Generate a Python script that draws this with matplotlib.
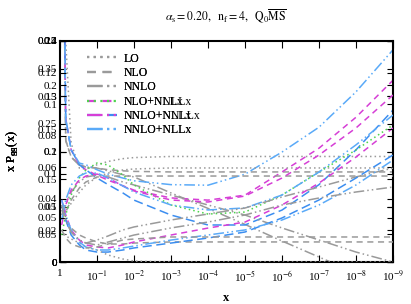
import numpy as np
import matplotlib.pyplot as plt
from matplotlib.lines import Line2D

plt.rcParams['font.family'] = ['Liberation Serif', 'DejaVu Serif']
plt.rcParams['mathtext.fontset'] = 'stix'

# common x grid (log spaced by eye)
x = np.array([0.9, 0.7, 0.5, 0.3, 0.2, 0.1, 0.05, 0.02, 1e-2,
              1e-3, 1e-4, 1e-5, 1e-6, 1e-7, 1e-8, 1e-9])

# gg panel (y range 0 - 0.4)
gg_lo = [1.58, 0.40, 0.215, 0.170, 0.168, 0.176, 0.182, 0.187, 0.189,
         0.191, 0.191, 0.191, 0.191, 0.191, 0.191, 0.191]
gg_nlo = [0.90, 0.22, 0.19, 0.176, 0.172, 0.170, 0.167, 0.165, 0.164,
          0.163, 0.163, 0.163, 0.163, 0.163, 0.163, 0.163]
gg_nnlo = [0.90, 0.22, 0.19, 0.175, 0.172, 0.170, 0.165, 0.158, 0.154,
           0.125, 0.097, 0.068, 0.038, 0.009, -0.02, -0.05]
gg_nlo_nllx = [0.90, 0.26, 0.203, 0.176, 0.167, 0.157, 0.148, 0.138, 0.130,
               0.116, 0.112, 0.121, 0.163, 0.206, 0.262, 0.329]
gg_nnlo_nnllx = [0.90, 0.26, 0.203, 0.176, 0.167, 0.152, 0.140, 0.125, 0.112,
                 0.085, 0.067, 0.067, 0.094, 0.140, 0.203, 0.275]
gg_nnlo_nllx = [0.90, 0.257, 0.203, 0.179, 0.176, 0.167, 0.159, 0.152, 0.147,
                0.140, 0.139, 0.159, 0.199, 0.244, 0.308, 0.384]

# gq panel (y range 0 - 0.2)
gq_lo = [0.0425, 0.0462, 0.053, 0.063, 0.0697, 0.0769, 0.0805, 0.0833, 0.0842,
         0.0851, 0.0851, 0.0851, 0.0851, 0.0851, 0.0851, 0.0851]
gq_nlo = [0.038, 0.0452, 0.0561, 0.067, 0.0724, 0.0769, 0.0778, 0.0778, 0.0778,
          0.0778, 0.0778, 0.0778, 0.0778, 0.0778, 0.0778, 0.0778]
gq_nnlo = [0.0425, 0.0516, 0.0633, 0.0724, 0.0769, 0.0787, 0.0769, 0.0724, 0.0697,
           0.0606, 0.0516, 0.0425, 0.0308, 0.0199, 0.009, 0.0]
gq_nlo_nnllx = [0.0244, 0.0425, 0.0606, 0.076, 0.0833, 0.0896, 0.0878, 0.0787, 0.0697,
                0.0516, 0.0434, 0.0452, 0.0606, 0.0814, 0.1014, 0.124]
gq_nnlo_nnllx = [0.0335, 0.0516, 0.0652, 0.0742, 0.0778, 0.0796, 0.076, 0.0688, 0.0643,
                 0.0561, 0.0543, 0.0597, 0.076, 0.0968, 0.1213, 0.1511]
gq_nnlo_nllx = [0.038, 0.0561, 0.0697, 0.0778, 0.0805, 0.0805, 0.076, 0.0688, 0.0633,
                0.0516, 0.0471, 0.0489, 0.0606, 0.0814, 0.106, 0.133]

# qg panel (y range 0 - 0.14)
qg_lo = [0.0203, 0.0165, 0.0146, 0.012, 0.0095, 0.0076, 0.0044, 0.0019, 0.0006,
         0.0, 0.0, 0.0, 0.0, 0.0, 0.0, 0.0]
qg_nlo = [0.033, 0.0266, 0.0215, 0.0171, 0.0152, 0.0127, 0.0114, 0.0114, 0.012,
          0.0127, 0.0127, 0.0127, 0.0127, 0.0127, 0.0127, 0.0127]
qg_nnlo = [0.0361, 0.0266, 0.019, 0.0139, 0.012, 0.0139, 0.0165, 0.0203, 0.0222,
           0.0266, 0.0304, 0.0342, 0.0412, 0.0475, 0.0539, 0.0595]
qg_nlo_nllx = [0.0393, 0.0298, 0.0203, 0.0139, 0.0108, 0.0095, 0.0089, 0.0108, 0.0127,
               0.0171, 0.0215, 0.0253, 0.0361, 0.050, 0.0665, 0.0849]
qg_nnlo_nnllx = [0.0361, 0.0266, 0.0171, 0.0108, 0.0076, 0.0063, 0.0063, 0.0076, 0.0089,
                 0.012, 0.0152, 0.019, 0.0279, 0.0393, 0.0532, 0.0678]
qg_nnlo_nllx = [0.0393, 0.0298, 0.0203, 0.0127, 0.0095, 0.0076, 0.0076, 0.0089, 0.0101,
                0.0139, 0.0171, 0.0203, 0.0266, 0.0361, 0.0488, 0.0646]

# qq panel (y range 0 - 0.25)
qq_nlo = [0.0362, 0.0271, 0.0204, 0.017, 0.0158, 0.017, 0.0204, 0.0249, 0.0260,
          0.0283, 0.0283, 0.0283, 0.0283, 0.0283, 0.0283, 0.0283]
qq_nnlo = [0.0645, 0.0475, 0.0339, 0.0249, 0.0215, 0.0192, 0.0226, 0.0271, 0.0305,
           0.0385, 0.0452, 0.0532, 0.0645, 0.0724, 0.0792, 0.0848]

ticks_x = [1, 1e-1, 1e-2, 1e-3, 1e-4, 1e-5, 1e-6, 1e-7, 1e-8, 1e-9]
ticklabels_x = ['1'] + [r'10$^{-%d}$' % k for k in range(1, 10)]

grey = '#9a9a9a'
magenta = '#d63fd6'
green = '#4cd44c'
blue = '#3c8ef0'
lblue = '#5aaaf8'
styles = {
    'LO': dict(color=grey, ls=(0, (1, 2))),
    'NLO': dict(color=grey, ls=(0, (4, 3))),
    'NNLO': dict(color=grey, ls=(0, (7, 2, 1, 2, 1, 2))),
    'mag': dict(color=magenta, ls=(0, (4, 3))),
    'magdd': dict(color=magenta, ls=(0, (7, 2, 1, 2, 1, 2))),
    'green': dict(color=green, ls=(0, (1, 2))),
    'blue': dict(color=blue, ls=(0, (6, 3))),
    'lblue': dict(color=lblue, ls=(0, (7, 2, 1, 2, 1, 2))),
}

fig = plt.figure(figsize=(4.11, 3.04), dpi=100)
rect = [60 / 411, 1 - 262 / 304, 333 / 411, 221 / 304]

panels = [
    (0.4, 0.05, r'x P$_{\mathrm{gg}}$(x)',
     [(gg_lo, 'LO'), (gg_nlo, 'NLO'), (gg_nnlo, 'NNLO'),
      (gg_nlo_nllx, 'mag'), (gg_nnlo_nnllx, 'blue'), (gg_nnlo_nllx, 'lblue')]),
    (0.2, 0.05, r'x P$_{\mathrm{gq}}$(x)',
     [(gq_lo, 'LO'), (gq_nlo, 'NLO'), (gq_nnlo, 'NNLO'),
      (gq_nlo_nnllx, 'green'), (gq_nnlo_nnllx, 'mag'), (gq_nnlo_nllx, 'lblue')]),
    (0.14, 0.02, r'x P$_{\mathrm{qg}}$(x)',
     [(qg_lo, 'LO'), (qg_nlo, 'NLO'), (qg_nnlo, 'NNLO'),
      (qg_nlo_nllx, 'mag'), (qg_nnlo_nnllx, 'blue'), (qg_nnlo_nllx, 'lblue')]),
    (0.25, 0.05, r'x P$_{\mathrm{qq}}$(x)',
     [(qq_nlo, 'NLO'), (qq_nnlo, 'NNLO')]),
]

legend_sets = [
    ['LO', 'NLO', 'NNLO', 'NLO+NLLx', 'NNLO+NNLLx', 'NNLO+NLLx'],
    ['LO', 'NLO', 'NNLO', 'NLO+NNLLx', 'NNLO+NLLx', 'NNLO+NLLx'],
]
legend_keys = [
    ['LO', 'NLO', 'NNLO', 'mag', 'blue', 'lblue'],
    ['LO', 'NLO', 'NNLO', 'green', 'magdd', 'lblue'],
]

axes = []
for i, (ymax, step, ylab, curves) in enumerate(panels):
    ax = fig.add_axes(rect, sharex=axes[0] if axes else None)
    ax.set_facecolor('none')
    ax.set_xscale('log')
    for vals, key in curves:
        ax.plot(x, vals, lw=1.1, **styles[key])
    ax.set_ylim(0, ymax)
    ax.set_yticks(np.arange(0, ymax + step / 2, step))
    ax.set_yticklabels(['0'] + ['%g' % v for v in np.arange(step, ymax + step / 2, step)])
    ax.tick_params(axis='y', direction='in', left=True, right=True, length=4,
                   labelsize=8, pad=2)
    ax.set_ylabel(ylab, fontsize=9, labelpad=12)
    if i == 0:
        for sp in ax.spines.values():
            sp.set_linewidth(1.5)
        ax.set_xlabel('x', fontsize=9, fontweight='bold', labelpad=6)
    else:
        ax.tick_params(axis='x', which='both', bottom=False, top=False,
                       labelbottom=False)
        for sp in ax.spines.values():
            sp.set_visible(False)
    if i < 2:
        handles = [Line2D([], [], lw=1.6, **styles[k]) for k in legend_keys[i]]
        ax.legend(handles, legend_sets[i], loc='upper left', frameon=False,
                  fontsize=8.5, handlelength=2.6, labelspacing=0.2,
                  borderaxespad=0.3, bbox_to_anchor=(0.055, 0.985),
                  handletextpad=0.5)
    axes.append(ax)

ax0 = axes[0]
ax0.set_xlim(1, 1e-9)
ax0.set_xticks(ticks_x)
ax0.set_xticklabels(ticklabels_x)
ax0.xaxis.set_minor_locator(plt.NullLocator())
ax0.tick_params(axis='x', direction='in', top=True, bottom=True, length=5,
                labelsize=8, pad=5)

fig.text(0.55, 0.945, r'$\alpha_{\rm s} = 0.20,\ \ {\rm n_f} = 4,\ \ {\rm Q_0}\overline{\rm MS}$',
         ha='center', va='center', fontsize=8.5)

fig.savefig('out.png', dpi=100)
